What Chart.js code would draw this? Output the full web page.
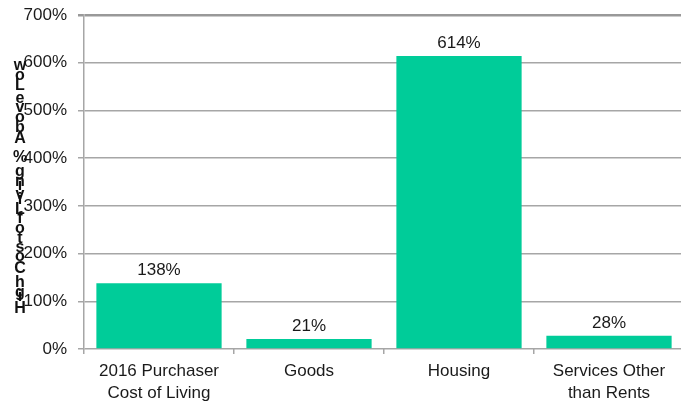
<!DOCTYPE html>
<html>
<head>
<meta charset="utf-8">
<script src="https://cdn.jsdelivr.net/npm/chart.js@4"></script>
<style>
html,body{margin:0;padding:0;background:#fff;overflow:hidden;}
#wrap{width:684px;height:407px;position:relative;}
</style>
</head>
<body>
<div id="wrap"><canvas id="chart"></canvas></div>
<script>
// categories and values (percent)
const categories = [["2016 Purchaser","Cost of Living"],"Goods","Housing",["Services Other","than Rents"]];
const values = [138,21,614,28];
const yTicks = [0,100,200,300,400,500,600,700];
const yTitle = "High Cost of Living % Above Low";

const FONT = "'Liberation Sans', Arial, sans-serif";
const GRID = "#a6a6a6";

// value labels over each bar
const barLabels = {
  id:"barLabels",
  afterDatasetsDraw(c){
    const ctx=c.ctx;
    const meta=c.getDatasetMeta(0);
    ctx.save();
    ctx.font="17px "+FONT;
    ctx.fillStyle="#1a1a1a";
    ctx.textAlign="center";
    ctx.textBaseline="bottom";
    meta.data.forEach((b,i)=>{
      ctx.fillText(values[i]+"%",b.x,b.y-4);
    });
    ctx.restore();
  }
};

// axis title, characters stacked upward from the bottom
const stackedTitle = {
  id:"stackedTitle",
  afterDraw(c){
    const ctx=c.ctx;
    ctx.save();
    ctx.font="bold 16px "+FONT;
    ctx.fillStyle="#111";
    ctx.textAlign="center";
    ctx.textBaseline="alphabetic";
    const chars=yTitle.split("");
    let total=0;
    chars.forEach(ch=>total+=ctx.measureText(ch).width);
    const k=255/total;
    let y=313;
    chars.forEach(ch=>{
      ctx.fillText(ch,20,y);
      y-=ctx.measureText(ch).width*k;
    });
    ctx.restore();
  }
};

chart=new Chart(document.getElementById("chart"),{
  type:"bar",
  data:{
    labels:categories,
    datasets:[{data:values,backgroundColor:"#00cc99",categoryPercentage:1,barPercentage:0.835}]
  },
  options:{
    responsive:true,
    maintainAspectRatio:false,
    animation:false,
    layout:{padding:{top:15,right:0,left:0,bottom:0}},
    plugins:{legend:{display:false},tooltip:{enabled:false}},
    scales:{
      x:{
        offset:true,
        grid:{display:true,drawOnChartArea:false,tickLength:5,color:GRID,lineWidth:1.5,offset:true},
        border:{display:false},
        ticks:{font:{size:17,family:FONT,lineHeight:1.3},color:"#1a1a1a",padding:6,maxRotation:0},
        afterFit(s){s.height=58;s.paddingLeft=0;s.paddingRight=0;}
      },
      y:{
        min:0,max:700,
        afterBuildTicks(s){s.ticks=yTicks.map(v=>({value:v}));},
        grid:{color:c=>c.index===yTicks.length-1?"#999":GRID,lineWidth:c=>c.index===yTicks.length-1?2.5:1.5,tickLength:6},
        border:{display:true,color:GRID,width:1.5},
        ticks:{font:{size:17,family:FONT},color:"#1a1a1a",padding:11,callback:v=>v+"%"},
        afterFit(s){s.width=84;s.paddingTop=0;s.paddingBottom=0;}
      }
    }
  },
  plugins:[barLabels,stackedTitle]
});
</script>
</body>
</html>
